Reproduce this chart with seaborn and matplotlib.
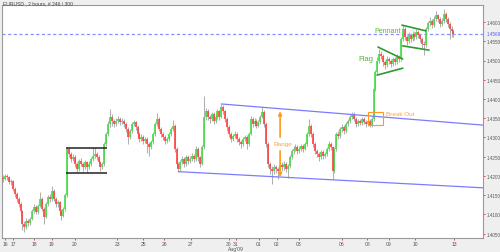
import numpy as np
import matplotlib
matplotlib.use("Agg")
import matplotlib.pyplot as plt
from matplotlib.patches import Rectangle
import seaborn as sns

sns.set_style("white")
plt.rcParams['font.family'] = ['Liberation Sans', 'DejaVu Sans']

# ---------------- data ----------------
first_open = 1.4195
closes = [
    1.4192, 1.4200, 1.4197, 1.4184, 1.4187, 1.4166, 1.4153, 1.4140, 1.4127, 1.4109,
    1.4075, 1.4067, 1.4083, 1.4078, 1.4088, 1.4109, 1.4119, 1.4106, 1.4122, 1.4140,
    1.4114, 1.4093, 1.4127, 1.4145, 1.4140, 1.4161, 1.4140, 1.4127, 1.4132, 1.4109,
    1.4096, 1.4114, 1.4150, 1.4270, 1.4257, 1.4244, 1.4249, 1.4231, 1.4218, 1.4239,
    1.4231, 1.4223, 1.4236, 1.4223, 1.4231, 1.4244, 1.4252, 1.4257, 1.4249, 1.4236,
    1.4223, 1.4231, 1.4283, 1.4309, 1.4335, 1.4353, 1.4343, 1.4335, 1.4343, 1.4348,
    1.4340, 1.4343, 1.4335, 1.4322, 1.4301, 1.4317, 1.4335, 1.4340, 1.4327, 1.4309,
    1.4296, 1.4301, 1.4291, 1.4296, 1.4283, 1.4275, 1.4288, 1.4309, 1.4335, 1.4348,
    1.4322, 1.4309, 1.4301, 1.4291, 1.4296, 1.4309, 1.4322, 1.4330, 1.4270, 1.4231,
    1.4218, 1.4236, 1.4244, 1.4231, 1.4249, 1.4239, 1.4244, 1.4252, 1.4244, 1.4270,
    1.4249, 1.4231, 1.4275, 1.4353, 1.4369, 1.4353, 1.4348, 1.4361, 1.4343, 1.4353,
    1.4369, 1.4353, 1.4379, 1.4369, 1.4348, 1.4327, 1.4309, 1.4296, 1.4304, 1.4309,
    1.4296, 1.4288, 1.4283, 1.4296, 1.4301, 1.4283, 1.4309, 1.4348, 1.4335, 1.4343,
    1.4330, 1.4340, 1.4353, 1.4366, 1.4335, 1.4283, 1.4231, 1.4218, 1.4213, 1.4223,
    1.4218, 1.4213, 1.4228, 1.4223, 1.4231, 1.4218, 1.4226, 1.4249, 1.4265, 1.4270,
    1.4275, 1.4265, 1.4270, 1.4278, 1.4270, 1.4283, 1.4309, 1.4330, 1.4309, 1.4283,
    1.4265, 1.4257, 1.4249, 1.4262, 1.4252, 1.4257, 1.4270, 1.4283, 1.4275, 1.4213,
    1.4270, 1.4309, 1.4304, 1.4322, 1.4327, 1.4317, 1.4335, 1.4343, 1.4353, 1.4361,
    1.4348, 1.4335, 1.4343, 1.4338, 1.4348, 1.4340, 1.4335, 1.4343, 1.4332, 1.4348,
    1.4426, 1.4470, 1.4499, 1.4517, 1.4512, 1.4496, 1.4488, 1.4504, 1.4499, 1.4491,
    1.4504, 1.4496, 1.4509, 1.4504, 1.4556, 1.4582, 1.4561, 1.4551, 1.4566, 1.4556,
    1.4569, 1.4561, 1.4574, 1.4566, 1.4556, 1.4543, 1.4540, 1.4582, 1.4597, 1.4603,
    1.4592, 1.4608, 1.4618, 1.4608, 1.4595, 1.4603, 1.4621, 1.4608, 1.4595, 1.4582,
    1.4577, 1.4569,
]
highs = [
    1.4203, 1.4206, 1.4204, 1.4201, 1.4193, 1.4190, 1.4170, 1.4158, 1.4146, 1.4131,
    1.4112, 1.4082, 1.4090, 1.4089, 1.4094, 1.4114, 1.4126, 1.4123, 1.4128, 1.4158,
    1.4145, 1.4118, 1.4132, 1.4150, 1.4152, 1.4173, 1.4165, 1.4145, 1.4138, 1.4136,
    1.4113, 1.4119, 1.4155, 1.4275, 1.4276, 1.4262, 1.4256, 1.4254, 1.4236, 1.4245,
    1.4247, 1.4236, 1.4242, 1.4240, 1.4238, 1.4250, 1.4275, 1.4272, 1.4263, 1.4254,
    1.4240, 1.4237, 1.4288, 1.4315, 1.4342, 1.4374, 1.4360, 1.4349, 1.4350, 1.4356,
    1.4353, 1.4350, 1.4348, 1.4339, 1.4326, 1.4322, 1.4341, 1.4346, 1.4344, 1.4331,
    1.4313, 1.4308, 1.4306, 1.4302, 1.4300, 1.4288, 1.4293, 1.4314, 1.4340, 1.4363,
    1.4352, 1.4326, 1.4314, 1.4306, 1.4302, 1.4314, 1.4328, 1.4345, 1.4334, 1.4274,
    1.4236, 1.4241, 1.4252, 1.4248, 1.4255, 1.4254, 1.4251, 1.4259, 1.4257, 1.4278,
    1.4274, 1.4253, 1.4280, 1.4408, 1.4376, 1.4373, 1.4359, 1.4367, 1.4365, 1.4360,
    1.4375, 1.4372, 1.4387, 1.4384, 1.4372, 1.4352, 1.4331, 1.4313, 1.4310, 1.4316,
    1.4313, 1.4300, 1.4294, 1.4302, 1.4307, 1.4305, 1.4314, 1.4356, 1.4352, 1.4350,
    1.4347, 1.4346, 1.4359, 1.4379, 1.4370, 1.4339, 1.4287, 1.4236, 1.4225, 1.4230,
    1.4229, 1.4224, 1.4234, 1.4235, 1.4238, 1.4236, 1.4232, 1.4255, 1.4271, 1.4277,
    1.4282, 1.4280, 1.4277, 1.4284, 1.4283, 1.4289, 1.4315, 1.4348, 1.4335, 1.4313,
    1.4287, 1.4270, 1.4262, 1.4268, 1.4267, 1.4263, 1.4276, 1.4290, 1.4288, 1.4279,
    1.4276, 1.4314, 1.4316, 1.4328, 1.4334, 1.4332, 1.4341, 1.4349, 1.4359, 1.4366,
    1.4365, 1.4352, 1.4349, 1.4348, 1.4354, 1.4352, 1.4345, 1.4349, 1.4347, 1.4354,
    1.4432, 1.4476, 1.4508, 1.4530, 1.4526, 1.4516, 1.4502, 1.4512, 1.4510, 1.4505,
    1.4510, 1.4508, 1.4516, 1.4514, 1.4562, 1.4591, 1.4586, 1.4566, 1.4573, 1.4571,
    1.4576, 1.4574, 1.4582, 1.4579, 1.4570, 1.4560, 1.4550, 1.4588, 1.4604, 1.4612,
    1.4608, 1.4615, 1.4628, 1.4622, 1.4612, 1.4610, 1.4634, 1.4626, 1.4613, 1.4600,
    1.4590, 1.4582,
]
lows = [
    1.4185, 1.4188, 1.4190, 1.4178, 1.4176, 1.4160, 1.4145, 1.4132, 1.4118, 1.4100,
    1.4060, 1.4054, 1.4062, 1.4070, 1.4072, 1.4084, 1.4103, 1.4100, 1.4101, 1.4118,
    1.4108, 1.4075, 1.4090, 1.4122, 1.4133, 1.4136, 1.4134, 1.4120, 1.4118, 1.4102,
    1.4085, 1.4092, 1.4110, 1.4146, 1.4250, 1.4236, 1.4238, 1.4224, 1.4210, 1.4213,
    1.4225, 1.4212, 1.4218, 1.4210, 1.4218, 1.4226, 1.4240, 1.4246, 1.4242, 1.4230,
    1.4212, 1.4217, 1.4226, 1.4278, 1.4303, 1.4328, 1.4330, 1.4326, 1.4329, 1.4337,
    1.4333, 1.4334, 1.4328, 1.4315, 1.4283, 1.4296, 1.4312, 1.4329, 1.4320, 1.4300,
    1.4288, 1.4290, 1.4284, 1.4285, 1.4260, 1.4252, 1.4270, 1.4284, 1.4304, 1.4330,
    1.4316, 1.4302, 1.4294, 1.4284, 1.4286, 1.4290, 1.4304, 1.4317, 1.4262, 1.4222,
    1.4211, 1.4214, 1.4230, 1.4222, 1.4226, 1.4230, 1.4233, 1.4238, 1.4236, 1.4240,
    1.4240, 1.4222, 1.4227, 1.4270, 1.4345, 1.4346, 1.4338, 1.4343, 1.4335, 1.4338,
    1.4348, 1.4346, 1.4350, 1.4362, 1.4340, 1.4318, 1.4300, 1.4288, 1.4290, 1.4298,
    1.4289, 1.4280, 1.4272, 1.4278, 1.4290, 1.4270, 1.4279, 1.4305, 1.4328, 1.4330,
    1.4324, 1.4326, 1.4336, 1.4350, 1.4328, 1.4276, 1.4222, 1.4205, 1.4179, 1.4205,
    1.4208, 1.4192, 1.4206, 1.4214, 1.4216, 1.4210, 1.4194, 1.4220, 1.4244, 1.4258,
    1.4264, 1.4258, 1.4259, 1.4265, 1.4263, 1.4266, 1.4279, 1.4304, 1.4302, 1.4276,
    1.4256, 1.4249, 1.4240, 1.4244, 1.4245, 1.4246, 1.4252, 1.4265, 1.4268, 1.4192,
    1.4208, 1.4264, 1.4296, 1.4298, 1.4315, 1.4310, 1.4312, 1.4330, 1.4338, 1.4347,
    1.4342, 1.4328, 1.4330, 1.4331, 1.4333, 1.4334, 1.4328, 1.4330, 1.4326, 1.4328,
    1.4344, 1.4420, 1.4465, 1.4494, 1.4504, 1.4486, 1.4478, 1.4483, 1.4490, 1.4482,
    1.4486, 1.4488, 1.4490, 1.4496, 1.4500, 1.4550, 1.4553, 1.4540, 1.4546, 1.4548,
    1.4550, 1.4553, 1.4556, 1.4558, 1.4548, 1.4532, 1.4514, 1.4536, 1.4576, 1.4590,
    1.4585, 1.4588, 1.4602, 1.4600, 1.4588, 1.4590, 1.4598, 1.4600, 1.4588, 1.4556,
    1.4560, 1.4562,
]

day_ticks = [1.0, 5.1, 15.9, 25.1, 36.9, 58.5, 71.8, 82.6, 96.4, 115.9, 119.5,
             131.3, 140.5, 151.8, 173.8, 186.7, 197.9, 211.3, 231.3]
day_labels = ["16", "17", "18", "19", "20", "23", "25", "26", "27", "30", "31",
              "01", "02", "03", "06", "08", "09", "10", "13"]
price_ticks = [1.4050, 1.4100, 1.4150, 1.4200, 1.4250, 1.4300, 1.4350,
               1.4400, 1.4450, 1.4500, 1.4550, 1.4600]
current_price = 1.4569

channel_upper_x = [112, 246.2]
channel_upper_y = [1.4387, 1.4332]
channel_lower_x = [90, 246.2]
channel_lower_y = [1.4211, 1.4169]

box_x = [32.3, 53.3]
box_top = 1.4272
box_bottom = 1.4207

flag_upper_x = [192.3, 205.0]
flag_upper_y = [1.4535, 1.4504]
flag_lower_x = [191.8, 205.0]
flag_lower_y = [1.4462, 1.4480]
pennant_upper_x = [204.6, 216.9]
pennant_upper_y = [1.4592, 1.4577]
pennant_lower_x = [205.0, 218.5]
pennant_lower_y = [1.4538, 1.4527]

range_x = 142.1
range_up = [1.4301, 1.4368]
range_down = [1.4265, 1.4197]
breakout_x = [187.0, 194.7]
breakout_y = [1.4332, 1.4366]

# ---------------- figure ----------------
closes_a = np.array(closes)
opens_a = np.concatenate([[first_open], closes_a[:-1]])
highs_a = np.array(highs)
lows_a = np.array(lows)
idx = np.arange(len(closes_a))
up = closes_a >= opens_a

fig = plt.figure(figsize=(5.0, 2.53), dpi=100, facecolor="#efefef")
ax = fig.add_axes([0.004, 14 / 253, 0.962, 233 / 253])
ax.set_facecolor("white")

# wicks
ax.vlines(idx, lows_a, highs_a, color="#b0b0b0", lw=0.75, zorder=2)
# bodies
ax.vlines(idx[up], opens_a[up], closes_a[up], color="#44dd44", lw=1.2, zorder=3)
ax.vlines(idx[~up], closes_a[~up], opens_a[~up], color="#ff4040", lw=1.2, zorder=3)

# channel
sns.lineplot(x=channel_upper_x, y=channel_upper_y, ax=ax, color="#7b7bff", lw=0.9, zorder=4)
sns.lineplot(x=channel_lower_x, y=channel_lower_y, ax=ax, color="#7b7bff", lw=0.9, zorder=4)

# current price dashed line
ax.axhline(current_price, color="#8c8cff", lw=0.9, ls=(0, (2.5, 2)), zorder=1)

# box pattern
ax.hlines([box_top, box_bottom], box_x[0], box_x[1], color="#222222", lw=1.1, zorder=5)

# flag / pennant
green = "#2f9a2f"
for xs, ys in [(flag_upper_x, flag_upper_y), (flag_lower_x, flag_lower_y),
               (pennant_upper_x, pennant_upper_y), (pennant_lower_x, pennant_lower_y)]:
    sns.lineplot(x=xs, y=ys, ax=ax, color=green, lw=1.2, zorder=5)
ax.text(186, 1.4506, "Flag", color="#5fae3a", fontsize=5.5, ha="center", va="center")
ax.text(197.4, 1.4578, "Pennant", color="#5fae3a", fontsize=5.0, ha="center", va="center")

# range arrows
orange = "#ff9a1a"
ax.annotate("", xy=(range_x, range_up[1]), xytext=(range_x, range_up[0]),
            arrowprops=dict(arrowstyle="-|>", color=orange, lw=1.2,
                            mutation_scale=5, shrinkA=0, shrinkB=0))
ax.annotate("", xy=(range_x, range_down[1]), xytext=(range_x, range_down[0]),
            arrowprops=dict(arrowstyle="-|>", color=orange, lw=1.2,
                            mutation_scale=5, shrinkA=0, shrinkB=0))
ax.text(143.3, 1.4284, "Range", color="#ffa040", fontsize=4.6, ha="center", va="center")

# break out
ax.add_patch(Rectangle((breakout_x[0], breakout_y[0]), breakout_x[1] - breakout_x[0],
                       breakout_y[1] - breakout_y[0], fill=False, ec=orange, lw=0.8, zorder=6))
ax.text(196.2, 1.4362, "Break Out", color="#ffa040", fontsize=4.6, ha="left", va="center")

# axes
ax.set_xlim(-0.5, 246.15)
ax.set_ylim(1.40385, 1.46443)
ax.yaxis.tick_right()
ax.set_yticks(price_ticks)
ax.set_yticklabels([f"{v:.4f}" for v in price_ticks])
ax.set_xticks(day_ticks)
ax.set_xticklabels(day_labels)
ax.tick_params(axis="both", which="major", labelcolor="#555555",
               color="#e03030", length=1.5, width=0.6, pad=0.8)
ax.tick_params(axis="y", labelsize=3.3, direction="out", left=False, right=True)
ax.tick_params(axis="x", labelsize=3.6, bottom=True, direction="out")
ax.set_xlabel("")
ax.set_ylabel("")
for s in ax.spines.values():
    s.set_color("#9a9a9a")
    s.set_linewidth(0.8)

ax.text(1.008, current_price, f"{current_price:.4f}", transform=ax.get_yaxis_transform(),
        color="#5a5aff", fontsize=3.3, ha="left", va="center")
fig.text(236 / 500, 0.5 / 253, "Aug'09", color="#555555", fontsize=3.6,
         ha="center", va="bottom")
fig.text(0.006, 0.995, "EURUSD , 2 hours, # 246 / 300", color="#444444",
         fontsize=3.6, ha="left", va="top")

fig.savefig("out.png", dpi=100, facecolor=fig.get_facecolor())
